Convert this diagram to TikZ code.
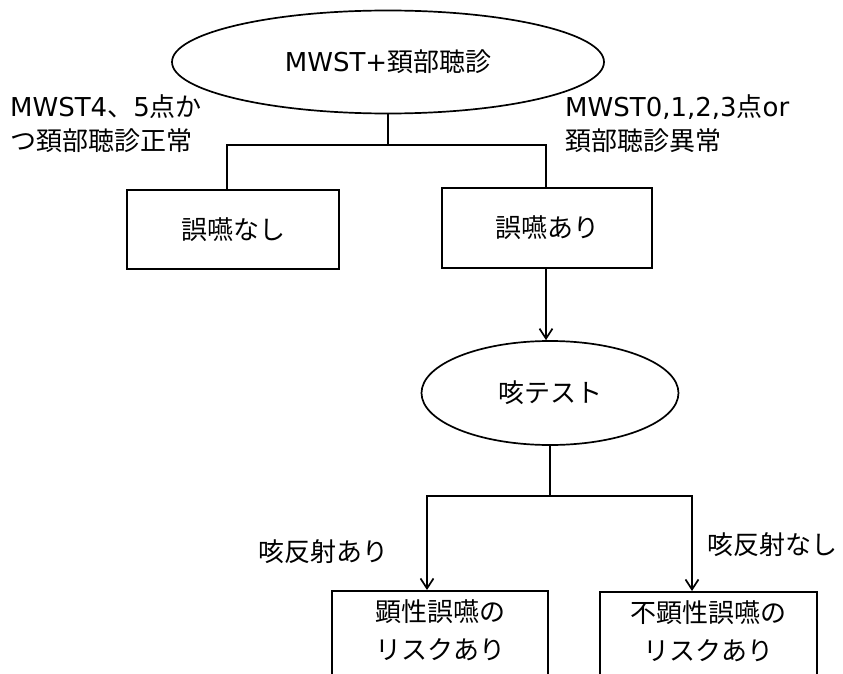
\documentclass[tikz,border=0pt]{standalone}
\usepackage{fontspec}
\setmainfont{Noto Sans CJK JP}
\newfontfamily\lat{DejaVu Sans}
\usetikzlibrary{shapes.geometric,arrows.meta}
\tikzset{
  every picture/.style={x=1pt,y=-1pt},
  ln/.style={line width=1.7pt,draw=black},
  arr/.style={ln,-{Straight Barb[length=10pt,width=13pt]}},
  oval/.style={ellipse,ln,inner sep=0pt,font=\fontsize{26}{34}\selectfont},
  boxn/.style={rectangle,ln,inner sep=0pt,align=center,font=\fontsize{26}{38}\selectfont},
  lbl/.style={inner sep=0pt,align=left,font=\fontsize{26}{34}\selectfont}
}
\begin{document}
\begin{tikzpicture}
\useasboundingbox (0,0) rectangle (843,674);
\clip (0,0) rectangle (843,674);
% top test
\node[oval,minimum width=432pt,minimum height=103pt] (top) at (388,62) {{\lat MWST+}頚部聴診};
% branch labels
\node[lbl,anchor=west] (lno) at (10,124) {{\lat MWST4}、{\lat 5}点か\\つ頚部聴診正常};
\node[lbl,anchor=west] (lyes) at (565,124) {{\lat MWST0,1,2,3}点{\lat or}\\頚部聴診異常};
% result boxes
\node[boxn,minimum width=212pt,minimum height=79pt] (no) at (233,229.5) {誤嚥なし};
\node[boxn,minimum width=210pt,minimum height=80pt] (yes) at (547,228) {誤嚥あり};
% connectors from top
\coordinate (j1) at (388,145);
\draw[ln] (top.south) -- (j1);
\draw[ln] (j1) -| ([xshift=-6pt]no.north);
\draw[ln] (j1) -| ([xshift=-1pt]yes.north);
% cough test
\node[oval,minimum width=257pt,minimum height=104pt] (cough) at (550,393) {咳テスト};
\draw[arr] ([xshift=-1pt]yes.south) -- ([xshift=-1pt]yes.south |- cough.north);
% split
\coordinate (j2) at (550,496);
\draw[ln] (cough.south) -- (j2);
\node[boxn,anchor=north,minimum width=216pt,minimum height=116pt] (r1) at (440,590) {顕性誤嚥の\\リスクあり\\ };
\node[boxn,anchor=north,minimum width=217pt,minimum height=116pt] (r2) at (708.5,591) {不顕性誤嚥の\\リスクあり\\ };
\draw[arr] (j2) -| ([xshift=-13pt]r1.north);
\draw[arr] (j2) -| ([xshift=-16.5pt]r2.north);
\node[lbl,anchor=center] (c1) at (323,552) {咳反射あり};
\node[lbl,anchor=center] (c2) at (772,545) {咳反射なし};
\end{tikzpicture}
\end{document}
